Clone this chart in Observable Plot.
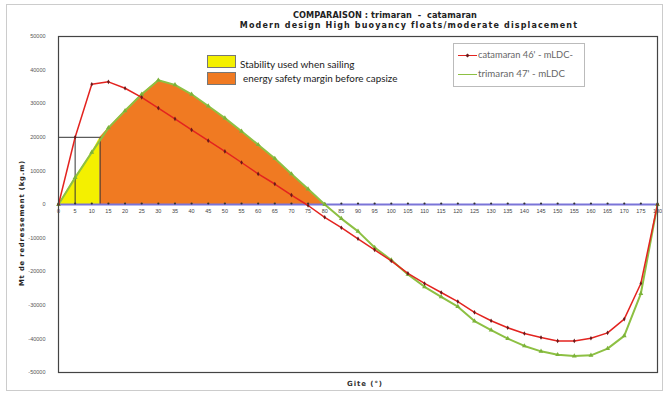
<!DOCTYPE html>
<html><head><meta charset="utf-8">
<script src="https://cdn.jsdelivr.net/npm/d3@7"></script>
<script src="https://cdn.jsdelivr.net/npm/@observablehq/plot@0.6"></script>
<style>
body{margin:0;background:#fff;font-family:"DejaVu Sans",sans-serif}
#wrap{position:relative;width:666px;height:394px}
.abs{position:absolute;white-space:nowrap;line-height:1}
</style></head>
<body><div id="wrap"></div>
<script>
// Heel angles (degrees)
const angles = d3.range(0, 181, 5);
// Righting moment (kg.m) – catamaran 46' mLDC
const catamaran = [0,20000,35800,36500,34600,31900,28700,25500,22200,19000,15800,12500,9100,6100,2800,-300,-3800,-6900,-10200,-13500,-16800,-20500,-23500,-26200,-28900,-32100,-34600,-36700,-38400,-39600,-40600,-40600,-39800,-38200,-34100,-23500,0];
// Righting moment (kg.m) – trimaran 47' mLDC
const trimaran = [0,8000,15500,22800,27900,32800,37000,35600,32800,29300,25700,21800,17800,13700,9100,4600,0,-4200,-8000,-12800,-16500,-20800,-24500,-27500,-30400,-34700,-37400,-39900,-42100,-43700,-44700,-45100,-44900,-42900,-39100,-26500,0];
// Sailing stability limit (box corner)
const sailLimitAngle = 12.5;
const sailLimitMoment = 20000;
const markAngle = 5;
const yTicks = d3.range(-50000, 50001, 10000);

const cat = angles.map((a,i)=>({a, v: catamaran[i]}));
const tri = angles.map((a,i)=>({a, v: trimaran[i]}));
const zero = angles.map(a=>({a, v:0}));
const yellowZone = tri.filter(d=>d.a < sailLimitAngle).concat([{a:sailLimitAngle, v:sailLimitMoment}]);
const orangeZone = [{a:sailLimitAngle, v:sailLimitMoment}].concat(tri.filter(d=>d.a > sailLimitAngle && d.v >= 0));

const chart = Plot.plot({
  width: 666, height: 394,
  marginLeft: 58, marginRight: 9, marginTop: 36, marginBottom: 22,
  x: {type:"linear", domain:[0,180], axis:null},
  y: {type:"linear", domain:[-50000,50000], axis:null},
  style: {background:"transparent"},
  marks: [
    Plot.areaY(yellowZone, {x:"a", y:"v", fill:"#f4f000"}),
    Plot.areaY(orangeZone, {x:"a", y:"v", fill:"#f07a22"}),
    Plot.ruleY([sailLimitMoment], {x1:0, x2:sailLimitAngle, stroke:"#333", strokeWidth:1}),
    Plot.ruleX([markAngle, sailLimitAngle], {y1:0, y2:sailLimitMoment, stroke:"#333", strokeWidth:1}),
    Plot.line(zero, {x:"a", y:"v", stroke:"#7a74d8", strokeWidth:2}),
    Plot.dot(zero, {x:"a", y:"v", r:1.1, fill:"#333", dy:-1}),
    Plot.text(angles, {x:d=>d, y:()=>0, text:d=>String(d), dy:7, fontSize:5.5, fill:"#444", fontFamily:"Liberation Sans"}),
    Plot.line(tri, {x:"a", y:"v", stroke:"#8dc043", strokeWidth:2}),
    Plot.dot(tri, {x:"a", y:"v", symbol:"triangle", r:1.8, fill:"#7cb23a"}),
    Plot.line(cat, {x:"a", y:"v", stroke:"#e3231f", strokeWidth:1.5}),
    Plot.dot(cat, {x:"a", y:"v", symbol:"diamond", r:1.4, fill:"#6a1a1a"}),
    Plot.text(yTicks, {x:()=>0, y:d=>d, text:d=>String(d), dx:-13, textAnchor:"end", fontSize:5.5, fill:"#555", fontFamily:"Liberation Sans"}),
    Plot.frame({stroke:"#444", strokeWidth:1.2})
  ]
});
const wrap = document.getElementById("wrap");
wrap.appendChild(chart);
chart.style.position="absolute"; chart.style.left="0"; chart.style.top="0";

const ctx = document.createElement("canvas").getContext("2d");
function measure(text, weight, family, size){
  ctx.font = `${weight} ${size}px ${family}`;
  return ctx.measureText(text).width;
}
function add(html, css){const d=document.createElement("div");d.className="abs";d.innerHTML=html;Object.assign(d.style,css);wrap.appendChild(d);return d;}
// text of given width: either scale font to fit, or keep size and adjust letter spacing
function label(text, opts){
  const {cx, cy, w, weight="normal", family="Lato", color="#222", rotate=0, size} = opts;
  let fs, ls = 0;
  if (size) { fs = size; ls = (w - measure(text, weight, family, size)) / text.length; }
  else { fs = 100*w/measure(text, weight, family, 100); }
  return add(text.replace(/ /g,"&nbsp;"), {left:cx+"px", top:cy+"px", transform:`translate(-50%,-50%) rotate(${rotate}deg)`,
    fontSize:fs+"px", letterSpacing:ls+"px", fontWeight:weight, fontFamily:family, color});
}
function leftLabel(text, opts){
  const {x, cy, w, weight="normal", family="Lato", color="#222"} = opts;
  const fs = 100*w/measure(text, weight, family, 100);
  return add(text, {left:x+"px", top:cy+"px", transform:"translateY(-50%)", fontSize:fs+"px", fontWeight:weight, fontFamily:family, color});
}
// outer border
add("",{left:"6px",top:"4px",width:"655px",height:"385px",border:"1px solid #ccc"});
// titles
label("COMPARAISON : trimaran  -  catamaran", {cx:385, cy:15, w:184, weight:"bold", family:"DejaVu Sans", size:8.2});
label("Modern design High buoyancy floats/moderate displacement", {cx:409, cy:25.5, w:338, weight:"bold", family:"DejaVu Sans", size:8});
// y label
label("Mt de redressement (kg.m)", {cx:22, cy:223, w:126, weight:"bold", family:"DejaVu Sans", size:6.8, rotate:-90});
// x label
label("Gite (°)", {cx:365, cy:384, w:36, weight:"bold", family:"DejaVu Sans", size:7, color:"#333"});
// fill legend
add("",{left:"207px",top:"55px",width:"29px",height:"13px",background:"#f4f000",border:"1px solid #777",boxSizing:"border-box"});
add("",{left:"207px",top:"72px",width:"29px",height:"13px",background:"#f07a22",border:"1px solid #777",boxSizing:"border-box"});
leftLabel("Stability used when sailing", {x:240, cy:63.5, w:115});
leftLabel("energy safety margin before capsize", {x:243, cy:78.5, w:155});
// series legend
add("",{left:"453px",top:"43px",width:"132px",height:"44px",border:"1px solid #bbb",background:"#fff",boxSizing:"border-box"});
add("",{left:"458px",top:"54.5px",width:"19px",height:"1.5px",background:"#e3231f"});
add("",{left:"466px",top:"54px",width:"3px",height:"3px",background:"#6a1a1a",transform:"rotate(45deg)"});
add("",{left:"458px",top:"73.5px",width:"19px",height:"1.5px",background:"#8dc043"});
leftLabel("catamaran 46' - mLDC-", {x:478, cy:55, w:95, color:"#666"});
leftLabel("trimaran 47' - mLDC", {x:478, cy:74, w:87, color:"#666"});
</script></body></html>
